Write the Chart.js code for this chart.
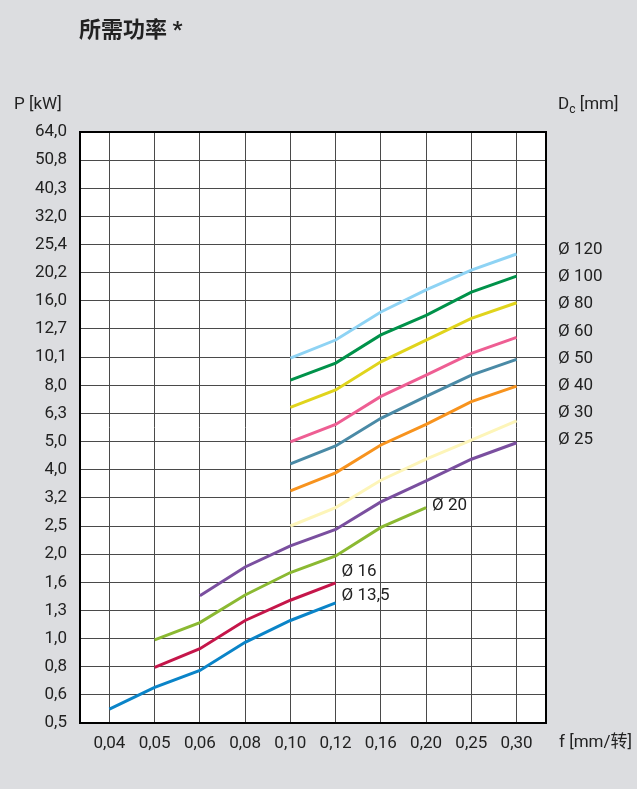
<!DOCTYPE html>
<html>
<head>
<meta charset="utf-8">
<script src="https://cdn.jsdelivr.net/npm/chart.js@4"></script>
<style>
  html, body { margin: 0; padding: 0; background: #dcdde0; }
  canvas { display: block; }
</style>
</head>
<body>
<canvas id="powerChart" width="637" height="789"></canvas>
<script>
// feed per tooth f [mm/转] (equally spaced categories)
const fLabels = ['0,04', '0,05', '0,06', '0,08', '0,10', '0,12', '0,16', '0,20', '0,25', '0,30'];
// P [kW] tick labels (geometric axis, ratio 2^(1/3))
const pLabels = ['0,5', '0,6', '0,8', '1,0', '1,3', '1,6', '2,0', '2,5', '3,2', '4,0', '5,0',
                 '6,3', '8,0', '10,1', '12,7', '16,0', '20,2', '25,4', '32,0', '40,3', '50,8', '64,0'];

// required power P [kW] per cutter diameter Dc, one value per feed (null = no value)
const d120 = [null, null, null, null, 10.0, 11.6, 14.6, 17.5, 20.6, 23.5];
const d100 = [null, null, null, null, 8.35, 9.6, 12.1, 14.2, 17.2, 19.6];
const d80  = [null, null, null, null, 6.67, 7.7, 9.7, 11.6, 13.85, 15.75];
const d60  = [null, null, null, null, 5.03, 5.8, 7.3, 8.7, 10.4, 11.85];
const d50  = [null, null, null, null, 4.2, 4.86, 6.1, 7.3, 8.7, 9.9];
const d40  = [null, null, null, null, 3.36, 3.9, 4.9, 5.8, 7.0, 7.95];
const d30  = [null, null, null, null, 2.52, 2.93, 3.67, 4.36, 5.1, 5.97];
const d25  = [null, null, 1.42, 1.8, 2.14, 2.45, 3.07, 3.65, 4.36, 4.99];
const d20  = [null, 0.99, 1.14, 1.43, 1.72, 1.97, 2.49, 2.93, null, null];
const d16  = [null, 0.79, 0.92, 1.16, 1.37, 1.58, null, null, null, null];
const d13  = [0.56, 0.67, 0.77, 0.97, 1.16, 1.34, null, null, null, null];

const rightNames = ['Ø 120', 'Ø 100', 'Ø 80', 'Ø 60', 'Ø 50', 'Ø 40', 'Ø 30', 'Ø 25'];

const FONT = "Roboto, 'Noto Sans CJK SC', sans-serif";
const TEXT = '#222';

function toPoints(arr) {
    const pts = [];
    arr.forEach(function(v, i) {
        if (v !== null) pts.push({ x: i, y: v });
    });
    return pts;
}

function series(name, arr, color, inside) {
    return {
        label: name,
        data: toPoints(arr),
        borderColor: color,
        backgroundColor: color,
        borderWidth: 3,
        pointRadius: 0,
        tension: 0,
        inside: inside || null
    };
}

const datasets = [
    series('Ø 120', d120, '#8ed3f4'),
    series('Ø 100', d100, '#00924a'),
    series('Ø 80', d80, '#e0d41c'),
    series('Ø 60', d60, '#ee5e93'),
    series('Ø 50', d50, '#4a8aa6'),
    series('Ø 40', d40, '#f7931e'),
    series('Ø 30', d30, '#fdf5b9'),
    series('Ø 25', d25, '#7a4f9f'),
    series('Ø 20', d20, '#8bb932', { dx: 6, dy: -2 }),
    series('Ø 16', d16, '#c5164a', { dx: 6, dy: -11 }),
    series('Ø 13,5', d13, '#0a84c8', { dx: 6, dy: -7 })
];

// background, plot frame and all free text
const decor = {
    id: 'decor',
    beforeDraw: function(chart) {
        const ctx = chart.ctx;
        const a = chart.chartArea;
        ctx.save();
        ctx.fillStyle = '#dcdde0';
        ctx.fillRect(0, 0, chart.width, chart.height);
        ctx.fillStyle = '#ffffff';
        ctx.fillRect(a.left, a.top, a.right - a.left, a.bottom - a.top);
        ctx.restore();
    },
    beforeDatasetsDraw: function(chart) {
        const ctx = chart.ctx;
        const a = chart.chartArea;
        ctx.save();
        ctx.strokeStyle = '#000';
        ctx.lineWidth = 2;
        ctx.strokeRect(a.left, a.top, a.right - a.left, a.bottom - a.top);
        ctx.restore();
    },
    afterDraw: function(chart) {
        const ctx = chart.ctx;
        const a = chart.chartArea;
        const xs = chart.scales.x;
        const ys = chart.scales.y;
        ctx.save();
        ctx.fillStyle = TEXT;
        ctx.textBaseline = 'middle';

        // title
        ctx.font = 'bold 22px ' + FONT;
        ctx.textAlign = 'left';
        ctx.fillText('所需功率 *', 79, 31);

        // axis captions
        ctx.font = '17px ' + FONT;
        ctx.fillText('P [kW]', 14, 105);
        ctx.fillText('f [mm/转]', a.right + 13, 743);

        const dx = a.right + 12;
        ctx.fillText('D', dx, 105);
        let w = ctx.measureText('D').width;
        ctx.font = '12px ' + FONT;
        ctx.fillText('c', dx + w, 110);
        w += ctx.measureText('c').width;
        ctx.font = '17px ' + FONT;
        ctx.fillText(' [mm]', dx + w, 105);

        // diameter labels on the right
        rightNames.forEach(function(name, i) {
            ctx.fillText(name, dx, 250 + i * 27.1);
        });

        // labels next to the short curves
        chart.data.datasets.forEach(function(ds) {
            if (!ds.inside) return;
            const last = ds.data[ds.data.length - 1];
            const px = xs.getPixelForValue(last.x) + ds.inside.dx;
            const py = ys.getPixelForValue(last.y) + ds.inside.dy;
            ctx.fillText(ds.label, px, py);
        });
        ctx.restore();
    }
};

new Chart(document.getElementById('powerChart'), {
    type: 'line',
    data: { datasets: datasets },
    options: {
        responsive: false,
        animation: false,
        layout: {
            padding: { left: 0, top: 132, right: 91, bottom: 0 }
        },
        plugins: {
            legend: { display: false },
            tooltip: { enabled: false }
        },
        scales: {
            x: {
                type: 'linear',
                min: -0.65,
                max: 9.65,
                afterBuildTicks: function(scale) {
                    scale.ticks = fLabels.map(function(_, i) { return { value: i }; });
                },
                afterFit: function(scale) { scale.height = 66; },
                grid: { color: '#4a4a4a', lineWidth: 1, drawTicks: false },
                border: { display: false },
                ticks: {
                    autoSkip: false,
                    maxRotation: 0,
                    padding: 11,
                    color: TEXT,
                    font: { family: FONT, size: 17 },
                    callback: function(value, index) { return fLabels[index]; }
                }
            },
            y: {
                type: 'logarithmic',
                min: 0.5,
                max: 64,
                afterBuildTicks: function(scale) {
                    scale.ticks = pLabels.map(function(_, k) { return { value: 0.5 * Math.pow(2, k / 3) }; });
                },
                afterFit: function(scale) { scale.width = 80; },
                grid: { color: '#4a4a4a', lineWidth: 1, drawTicks: false },
                border: { display: false },
                ticks: {
                    autoSkip: false,
                    padding: 13,
                    color: TEXT,
                    font: { family: FONT, size: 17 },
                    callback: function(value, index) { return pLabels[index]; }
                }
            }
        }
    },
    plugins: [decor]
});
</script>
</body>
</html>
